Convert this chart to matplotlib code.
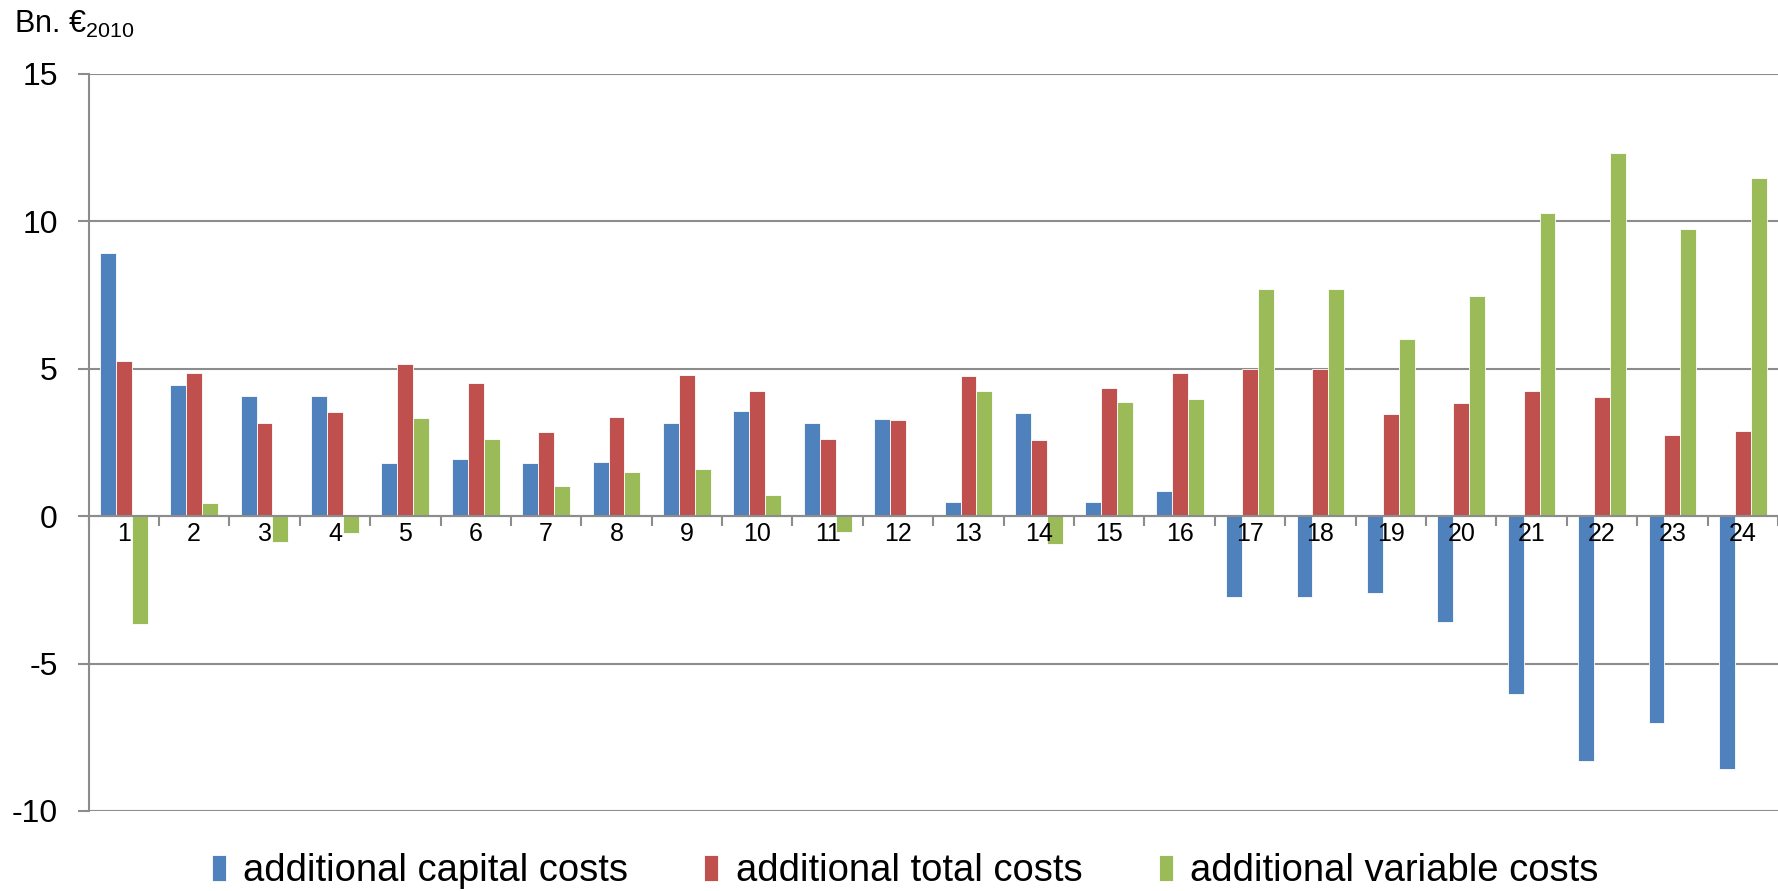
import numpy as np
import matplotlib
matplotlib.use("Agg")
import matplotlib.pyplot as plt

plt.rcParams['font.family'] = ['Liberation Sans', 'DejaVu Sans']
plt.rcParams['mathtext.fontset'] = 'custom'
plt.rcParams['mathtext.rm'] = 'Liberation Sans'
plt.rcParams['mathtext.it'] = 'Liberation Sans'

categories = [str(i) for i in range(1, 25)]
capital = [8.92, 4.45, 4.06, 4.08, 1.81, 1.94, 1.81, 1.85, 3.16, 3.56, 3.16, 3.30,
           0.48, 3.49, 0.48, 0.84, -2.73, -2.76, -2.61, -3.60, -6.04, -8.29, -7.00, -8.59]
total = [5.27, 4.86, 3.16, 3.53, 5.14, 4.52, 2.84, 3.36, 4.78, 4.25, 2.61, 3.27,
         4.75, 2.58, 4.34, 4.85, 5.00, 4.99, 3.46, 3.84, 4.25, 4.05, 2.76, 2.90]
variable = [-3.67, 0.43, -0.89, -0.57, 3.32, 2.60, 1.03, 1.51, 1.61, 0.70, -0.55, 0.0,
            4.25, -0.94, 3.88, 3.97, 7.71, 7.71, 6.01, 7.45, 10.26, 12.32, 9.73, 11.47]

labels = ['additional capital costs', 'additional total costs', 'additional variable costs']
colors = ['#4F81BD', '#C0504D', '#9BBB59']
yticks = [-10, -5, 0, 5, 10, 15]

fig = plt.figure(figsize=(17.78, 8.91), dpi=100)
ax = fig.add_axes([0.0498, 0.0898, 0.9502, 0.8275])

x = np.arange(len(categories))
w = 0.226
for k, (vals, c, lab) in enumerate(zip([capital, total, variable], colors, labels)):
    ax.bar(x + (k - 1) * w, vals, w, color=c, label=lab,
           edgecolor='white', linewidth=0.6, zorder=2)

# gridlines under the bars, axis labels on top
for yv in yticks:
    ax.axhline(yv, color='#8c8c8c', linewidth=1.5, zorder=1)
ax.xaxis.set_zorder(5)

ax.set_xlim(-0.5, len(categories) - 0.5)
ax.set_ylim(-10, 15)
ax.set_yticks(yticks)
ax.set_yticklabels([str(v) for v in yticks], fontsize=23)

for s in ['top', 'right']:
    ax.spines[s].set_visible(False)
ax.spines['left'].set_color('#8c8c8c')
ax.spines['left'].set_linewidth(1.5)
ax.spines['bottom'].set_position(('data', 0))
ax.spines['bottom'].set_color('#8c8c8c')
ax.spines['bottom'].set_linewidth(1.5)
ax.spines['bottom'].set_zorder(5)

ax.tick_params(axis='y', length=8, width=1.5, color='#8c8c8c', pad=14)
ax.set_xticks(x)
ax.set_xticklabels(categories, fontsize=18)
ax.set_xticks(np.arange(len(categories) + 1) - 0.5, minor=True)
ax.tick_params(axis='x', which='major', length=0, pad=4)
ax.tick_params(axis='x', which='minor', length=7, width=1.5, color='#8c8c8c')

fig.text(0.008, 0.972, r'Bn. €$_{2010}$', fontsize=22, va='center', ha='left')

fig.legend(loc='center', bbox_to_anchor=(0.509, 0.022), ncol=3, frameon=False,
           fontsize=27.5, handlelength=0.37, handleheight=0.66, handletextpad=0.45,
           columnspacing=2.0)

plt.savefig('out.png', dpi=100)
